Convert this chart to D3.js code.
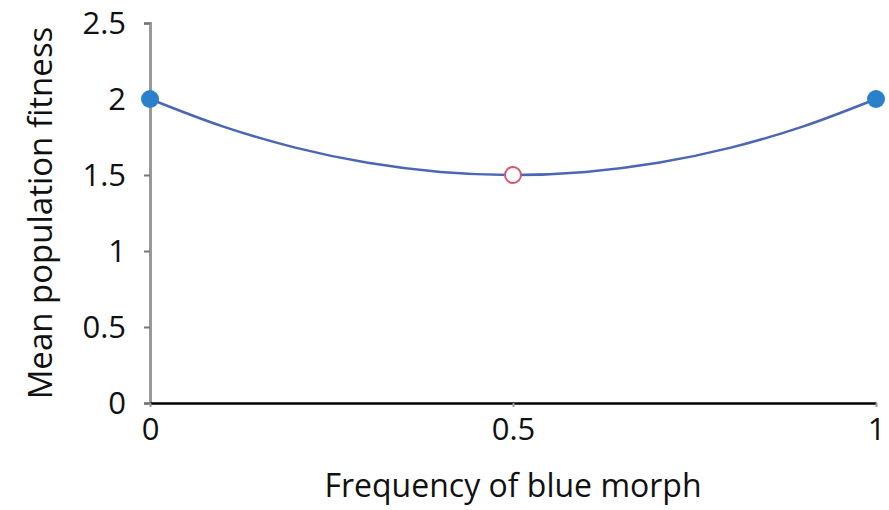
<!DOCTYPE html>
<html><head><meta charset="utf-8">
<script src="https://cdn.jsdelivr.net/npm/d3@7"></script>
<style>body{margin:0;background:#fff}svg{display:block}text{font-family:"Open Sans","DejaVu Sans",sans-serif;fill:#111}</style>
</head><body><svg id="c" width="889" height="510"></svg>
<script>
const freq = [0, 0.1, 0.2, 0.3, 0.4, 0.5, 0.6, 0.7, 0.8, 0.9, 1];
const fitness = [2, 1.82, 1.68, 1.58, 1.52, 1.5, 1.52, 1.58, 1.68, 1.82, 2];
const stablePts = [{x:0,y:2},{x:1,y:2}];
const unstablePts = [{x:0.5,y:1.5}];
const xTicks = [0, 0.5, 1];
const yTicks = [0, 0.5, 1, 1.5, 2, 2.5];
const xTitle = "Frequency of blue morph";
const yTitle = "Mean population fitness";

const svg = d3.select("#c");
const x = d3.scaleLinear().domain([0,1]).range([150,876]);
const y = d3.scaleLinear().domain([0,2.5]).range([403,23]);

// y axis
const ya = svg.append("g").attr("transform","translate(150,0)")
  .call(d3.axisLeft(y).tickValues(yTicks).tickFormat(d=>String(d)).tickSize(6).tickPadding(18));
ya.select(".domain").attr("stroke","#999").attr("stroke-width",3);
ya.selectAll(".tick line").attr("stroke","#777").attr("stroke-width",2);
ya.selectAll(".tick text").style("font-size","31px").attr("fill","#111").attr("dy","0.35em");

// x axis
const xa = svg.append("g").attr("transform","translate(0,403)")
  .call(d3.axisBottom(x).tickValues(xTicks).tickFormat(d=>String(d)).tickSize(4).tickSizeOuter(0).tickPadding(10));
xa.select(".domain").attr("stroke","#000").attr("stroke-width",2.5);
xa.selectAll(".tick line").attr("stroke","#999").attr("stroke-width",2);
xa.selectAll(".tick text").style("font-size","31px").attr("fill","#111").attr("dy","0.75em");

// titles
svg.append("text").attr("x",513).attr("y",497).attr("text-anchor","middle")
  .style("font-size","32px").text(xTitle);
svg.append("text").attr("transform","translate(52,213) rotate(-90)").attr("text-anchor","middle")
  .style("font-size","33px").text(yTitle);

// curve
const data = freq.map((f,i)=>({x:f,y:fitness[i]}));
svg.append("path").datum(data)
  .attr("d", d3.line().x(d=>x(d.x)).y(d=>y(d.y)).curve(d3.curveCatmullRom))
  .attr("fill","none").attr("stroke","#4a66b5").attr("stroke-width",2.5);

svg.selectAll(".st").data(stablePts).join("circle")
  .attr("cx",d=>x(d.x)).attr("cy",d=>y(d.y)).attr("r",9).attr("fill","#2b80cc");
svg.selectAll(".un").data(unstablePts).join("circle")
  .attr("cx",d=>x(d.x)).attr("cy",d=>y(d.y)).attr("r",8)
  .attr("fill","#fff").attr("stroke","#d9566e").attr("stroke-width",2);
</script></body></html>
